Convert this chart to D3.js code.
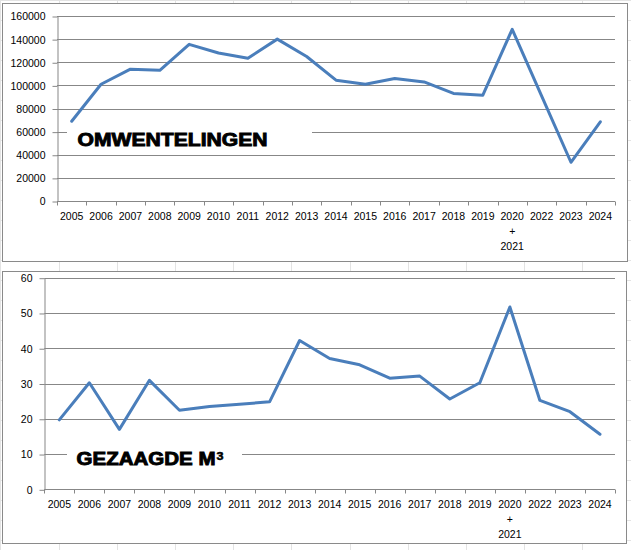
<!DOCTYPE html>
<html>
<head>
<meta charset="utf-8">
<script src="https://cdn.jsdelivr.net/npm/d3@7"></script>
<style>
  html, body { margin: 0; padding: 0; background: #fff; }
  svg { display: block; }
  text { font-family: "Liberation Sans", Arial, sans-serif; }
</style>
</head>
<body>
<svg id="chart" width="631" height="550"></svg>
<script>
// ---------- DATA ----------
const categories = ["2005","2006","2007","2008","2009","2010","2011","2012","2013","2014",
                    "2015","2016","2017","2018","2019","2020\n+\n2021","2022","2023","2024"];
const omwentelingen = [69000, 101000, 114000, 113000, 135500, 128000, 123500, 140000, 125000, 104500,
                       101000, 106000, 103000, 93000, 91500, 148500, 91000, 33500, 68500];
const gezaagd = [19.7, 30.2, 17.0, 30.9, 22.4, 23.5, 24.1, 24.8, 42.2, 37.1,
                 35.3, 31.5, 32.1, 25.6, 30.2, 51.7, 25.2, 22.0, 15.6];
const ticksTop = [0, 20000, 40000, 60000, 80000, 100000, 120000, 140000, 160000];
const ticksBottom = [0, 10, 20, 30, 40, 50, 60];
const titleTop = "OMWENTELINGEN";
const titleBottom = "GEZAAGDE M";
const titleBottomSup = "3";

// ---------- STYLE ----------
const LINE = "#4A7EBB", GRID = "#878787", BORDER = "#8a8a8a";
const svg = d3.select("#chart");
svg.append("rect").attr("width", 631).attr("height", 550).attr("fill", "#fff");

// faint spreadsheet cell grid behind the charts
const bg = svg.append("g").attr("stroke", "#e3e3e3").attr("stroke-width", 1);
d3.range(0, 11).forEach(k => {
  const x = Math.round(0.3 + 58.2 * k) + 0.5;
  bg.append("line").attr("x1", x).attr("x2", x).attr("y1", 0).attr("y2", 550);
});
d3.range(0, 28).forEach(k => {
  const y = 20 * k + 0.5;
  bg.append("line").attr("x1", 0).attr("x2", 631).attr("y1", y).attr("y2", y);
});

function drawChart(cfg) {
  const g = svg.append("g");
  g.append("rect").attr("x", cfg.box[0] + 0.5).attr("y", cfg.box[1] + 0.5)
    .attr("width", cfg.box[2]).attr("height", cfg.box[3])
    .attr("fill", "#fff").attr("stroke", BORDER).attr("stroke-width", 1);

  const x = d3.scaleBand().domain(cfg.cats).range([cfg.left, cfg.right]).paddingInner(0).paddingOuter(0);
  const y = d3.scaleLinear().domain([cfg.ticks[0], cfg.ticks[cfg.ticks.length - 1]]).range([cfg.bottom, cfg.top]);

  // gridlines
  g.append("g").selectAll("line").data(cfg.ticks.slice(1)).join("line")
    .attr("x1", cfg.left).attr("x2", cfg.right)
    .attr("y1", d => Math.round(y(d)) + 0.5).attr("y2", d => Math.round(y(d)) + 0.5)
    .attr("stroke", GRID).attr("stroke-width", 1);

  // y axis
  const ya = g.append("g").attr("transform", `translate(${Math.round(cfg.left) + 0.5},0.5)`)
    .call(d3.axisLeft(y).tickValues(cfg.ticks).tickFormat(d3.format("d")).tickSize(5).tickPadding(7).tickSizeOuter(0));
  ya.selectAll("path, line").attr("stroke", GRID);
  ya.selectAll("text").attr("font-size", "10.5px").attr("fill", "#000")
    .attr("font-family", "'Liberation Sans', Arial, sans-serif");

  // x axis line and ticks at band boundaries
  const by = Math.round(cfg.bottom) + 0.5;
  g.append("line").attr("x1", cfg.left).attr("x2", cfg.right).attr("y1", by).attr("y2", by).attr("stroke", GRID);
  const bounds = cfg.cats.map(c => x(c)).concat([x(cfg.cats[cfg.cats.length - 1]) + x.bandwidth()]);
  g.append("g").selectAll("line").data(bounds).join("line")
    .attr("x1", d => Math.round(d) + 0.5).attr("x2", d => Math.round(d) + 0.5)
    .attr("y1", by).attr("y2", by + 4).attr("stroke", GRID);

  // x labels
  const lab = g.append("g").selectAll("text").data(cfg.cats).join("text")
    .attr("text-anchor", "middle").attr("font-size", "10.5px").attr("fill", "#000");
  lab.each(function (d) {
    const t = d3.select(this);
    d.split("\n").forEach((part, i) => {
      t.append("tspan").attr("x", x(d) + x.bandwidth() / 2)
        .attr("y", cfg.labelY + i * 15).text(part);
    });
  });

  // line
  const line = d3.line().x((d, i) => x(cfg.cats[i]) + x.bandwidth() / 2).y(d => y(d));
  g.append("path").datum(cfg.values).attr("d", line)
    .attr("fill", "none").attr("stroke", LINE).attr("stroke-width", 3)
    .attr("stroke-linejoin", "round").attr("stroke-linecap", "round");

  // title box
  g.append("rect").attr("x", cfg.tbox[0]).attr("y", cfg.tbox[1])
    .attr("width", cfg.tbox[2]).attr("height", cfg.tbox[3]).attr("fill", "#fff");
  g.append("text").attr("x", cfg.tx).attr("y", cfg.ty)
    .attr("font-size", "17.7px").attr("font-weight", "bold").attr("fill", "#000")
    .attr("stroke", "#000").attr("stroke-width", 0.9)
    .attr("textLength", cfg.tlen).attr("lengthAdjust", "spacingAndGlyphs")
    .text(cfg.title);
  if (cfg.sup) {
    g.append("text").attr("x", cfg.supX).attr("y", cfg.supY)
      .attr("font-size", "10.5px").attr("font-weight", "bold").attr("fill", "#000")
      .attr("stroke", "#000").attr("stroke-width", 0.5)
      .attr("textLength", 7).attr("lengthAdjust", "spacingAndGlyphs")
      .text(cfg.sup);
  }
}

drawChart({
  box: [2, 3, 625, 258], cats: categories, values: omwentelingen, ticks: ticksTop,
  left: 57, right: 615, top: 16, bottom: 201, labelY: 220,
  tbox: [67, 124, 245, 28], tx: 77.5, ty: 146, tlen: 190, title: titleTop
});
drawChart({
  box: [2, 271, 624, 272], cats: categories, values: gezaagd, ticks: ticksBottom,
  left: 44.3, right: 615, top: 277.7, bottom: 489.3, labelY: 508,
  tbox: [67, 443, 175, 27], tx: 76.5, ty: 465.3, tlen: 139, title: titleBottom,
  sup: titleBottomSup, supX: 216.5, supY: 460.3
});
</script>
</body>
</html>
